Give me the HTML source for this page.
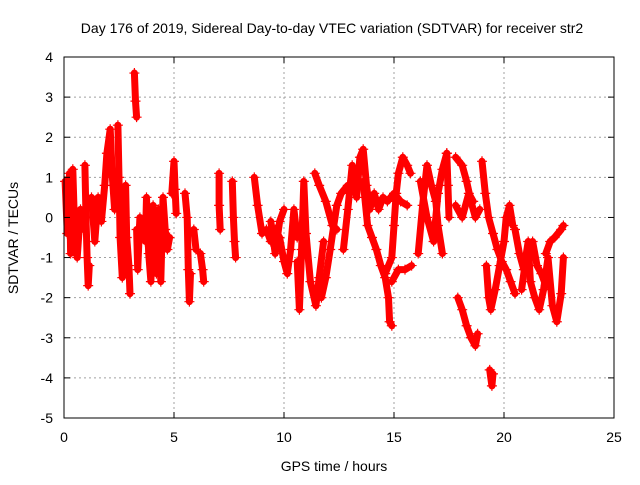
<!DOCTYPE html>
<html><head><meta charset="utf-8"><style>
body{margin:0;background:#fff}
svg text{font-family:"Liberation Sans",sans-serif;font-size:14px;fill:#000}
</style></head><body>
<svg id="chart" width="640" height="480" viewBox="0 0 640 480" xmlns="http://www.w3.org/2000/svg">
<rect width="640" height="480" fill="#fff"/>
<text x="332" y="33" text-anchor="middle">Day 176 of 2019, Sidereal Day-to-day VTEC variation (SDTVAR) for receiver str2</text>
<text x="334" y="471" text-anchor="middle">GPS time / hours</text>
<text transform="translate(18,238) rotate(-90)" text-anchor="middle">SDTVAR / TECUs</text>
<g id="grid"></g>
<g id="marks"></g>
<rect x="64" y="57" width="550" height="361" fill="none" stroke="#000" stroke-width="1"/>
<g id="axes"></g>
</svg>
<script>
const xTicks=[0,5,10,15,20,25];
const yTicks=[-5,-4,-3,-2,-1,0,1,2,3,4];
const trackTimes=[
[0.05,0.15,0.25,0.3,0.4,0.5,0.6,0.75,0.8],
[0.95,1.0,1.05,1.1,1.15],
[1.25,1.4,1.55,1.7,1.85,1.95,2.1,2.2,2.3],
[2.45,2.5,2.55,2.65,2.7,2.8,2.85,2.95,3.0],
[3.2,3.25,3.3],
[3.3,3.35,3.45,3.55],
[3.7,3.75,3.85,3.95,4.05,4.15],
[4.2,4.3,4.4,4.5,4.6,4.7,4.8],
[4.9,5.0,5.05,5.1],
[5.5,5.6,5.65,5.7,5.75],
[5.9,6.0],
[6.2,6.3,6.35],
[7.05,7.05,7.1],
[7.65,7.7,7.75,7.8],
[8.65,8.8,9.0,9.2,9.4,9.6,9.8,10.0,10.15,10.3,10.45,10.6],
[9.4,9.6,9.8,10.0],
[10.6,10.7,10.8,10.9,11.0,11.2,11.45,11.6,11.8],
[11.4,11.6,11.9,12.2,12.4],
[11.7,11.9,12.1,12.4,12.6,12.9],
[12.7,12.9,13.1,13.3,13.45,13.6,13.75,13.9,14.1,14.3,14.5,14.7,15.0,15.3,15.6],
[13.6,13.8,14.0,14.2,14.4,14.6,14.75,14.8,14.9],
[14.6,14.9,15.0,15.1,15.2,15.4,15.6,15.75],
[14.9,15.2,15.5,15.8],
[16.1,16.3,16.5,16.7,16.9,17.0,17.2],
[16.2,16.5,16.8,17.0,17.2,17.4],
[17.4,17.45,17.5],
[17.8,18.1,18.3,18.5,18.7,18.9],
[17.8,18.1,18.4,18.6],
[17.9,18.1,18.3,18.5,18.7,18.8],
[19.0,19.15,19.3,19.5,19.7,19.9,20.1,20.3,20.5],
[19.2,19.3,19.4,19.6,19.8,20.0,20.1,20.25,20.4],
[19.35,19.45,19.5],
[20.5,20.7,20.9,21.1,21.2,21.4,21.6,21.8,22.0,22.2,22.4,22.6,22.7],
[20.8,21.0,21.3,21.5,21.7,21.9],
[21.9,22.1,22.3,22.6,22.7]
];
const trackValues=[
[0.9,-0.4,1.1,-0.9,1.2,-0.6,-1.0,0.2,-0.3],
[1.3,0.0,-1.0,-1.7,-1.2],
[0.5,-0.6,0.5,-0.1,0.8,1.6,2.2,1.0,0.2],
[2.3,1.0,-0.5,-1.5,-0.2,0.8,-0.5,-1.2,-1.9],
[3.6,2.9,2.5],
[-0.3,-1.3,0.0,-0.3],
[-0.6,0.5,-0.9,-1.6,0.3,-0.5],
[-1.4,0.2,-1.6,0.5,-0.3,-0.8,-0.5],
[0.6,1.4,0.7,0.1],
[0.6,0.0,-1.3,-2.1,-1.4],
[-0.3,-0.8],
[-0.9,-1.3,-1.6],
[1.1,0.3,-0.3],
[0.9,0.0,-0.6,-1.0],
[1.0,0.3,-0.4,-0.3,-0.6,-0.3,-0.5,-1.1,-1.4,-0.8,0.2,-0.5],
[-0.1,-0.9,-0.1,0.2],
[-1.1,-2.3,-0.8,0.9,-0.4,-1.6,-2.2,-1.5,-0.6],
[1.1,0.8,0.4,-0.2,-0.3],
[-2.0,-1.5,-0.8,0.3,0.6,0.8],
[-0.8,0.2,1.3,0.5,1.5,1.7,0.8,0.2,0.6,0.2,0.5,0.4,0.6,0.4,0.3],
[0.9,-0.2,-0.5,-0.8,-1.2,-1.5,-2.0,-2.6,-2.7],
[-1.4,-1.0,-0.2,0.6,1.1,1.5,1.3,1.1],
[-1.6,-1.3,-1.3,-1.2],
[-0.9,0.3,1.3,0.8,0.4,-0.2,-0.9],
[0.9,0.0,-0.6,0.6,1.2,1.6],
[1.6,0.8,0.0],
[1.5,1.3,0.9,0.4,0.0,0.2],
[0.3,0.0,0.6,0.4],
[-2.0,-2.3,-2.7,-3.0,-3.2,-2.9],
[1.4,0.6,0.0,-0.4,-0.8,-1.1,-1.3,-1.6,-1.9],
[-1.2,-2.0,-2.3,-1.8,-1.2,-0.6,0.0,0.3,-0.2],
[-3.8,-4.2,-3.9],
[-0.3,-0.9,-1.3,-0.6,-1.6,-2.0,-2.3,-1.8,-1.0,-2.2,-2.6,-1.9,-1.0],
[-1.8,-1.0,-0.6,-1.2,-1.4,-1.7],
[-0.9,-0.6,-0.5,-0.3,-0.2]
];
const NS="http://www.w3.org/2000/svg";
const X0=64,X1=614,Y0=418,Y1=57;
function xs(h){return X0+(h-0)/(25-0)*(X1-X0);}
function ys(v){return Y0-(v-(-5))/(4-(-5))*(Y0-Y1);}
function mk(tag,attrs,parent){const e=document.createElementNS(NS,tag);for(const k in attrs)e.setAttribute(k,attrs[k]);parent.appendChild(e);return e;}
const grid=document.getElementById('grid'),axes=document.getElementById('axes'),marks=document.getElementById('marks');
xTicks.forEach(t=>{
  const x=xs(t);
  if(t>0&&t<25){const g=mk('line',{x1:x,x2:x,y1:Y1,y2:Y0,stroke:'#a0a0a0','stroke-dasharray':'2,3'},grid);
  
  }
  const a=mk('line',{x1:x,x2:x,y1:Y0,y2:Y0-6,stroke:'#000'},axes);
  
  
  mk('line',{x1:x,x2:x,y1:Y1,y2:Y1+6,stroke:'#000'},axes);
  const l=mk('text',{x:x,y:442,'text-anchor':'middle'},axes);l.textContent=t;
  
  
});
yTicks.forEach(t=>{
  const y=ys(t);
  if(t>-5&&t<4){const g=mk('line',{x1:X0,x2:X1,y1:y,y2:y,stroke:'#a0a0a0','stroke-dasharray':'2,3'},grid);
  
  }
  const a=mk('line',{x1:X0,x2:X0+6,y1:y,y2:y,stroke:'#000'},axes);
  
  
  mk('line',{x1:X1,x2:X1-6,y1:y,y2:y,stroke:'#000'},axes);
  const l=mk('text',{x:53,y:y+5,'text-anchor':'end'},axes);l.textContent=t;
  
  
});
trackTimes.forEach((ts,i)=>{
  const vs=trackValues[i];
  const pts=ts.map((t,j)=>xs(t)+','+ys(vs[j])).join(' ');
  const pl=mk('polyline',{points:pts,fill:'none',stroke:'#ff0000','stroke-width':7,'stroke-linejoin':'round','stroke-linecap':'round'},marks);
  
  
  ts.forEach((t,j)=>{
    const x=xs(t),y=ys(vs[j]);
    const p=mk('path',{d:`M${x-5},${y}H${x+5}M${x},${y-5}V${y+5}`,stroke:'#ff0000','stroke-width':1.2},marks);
    
    
  });
});
</script>
</body></html>
